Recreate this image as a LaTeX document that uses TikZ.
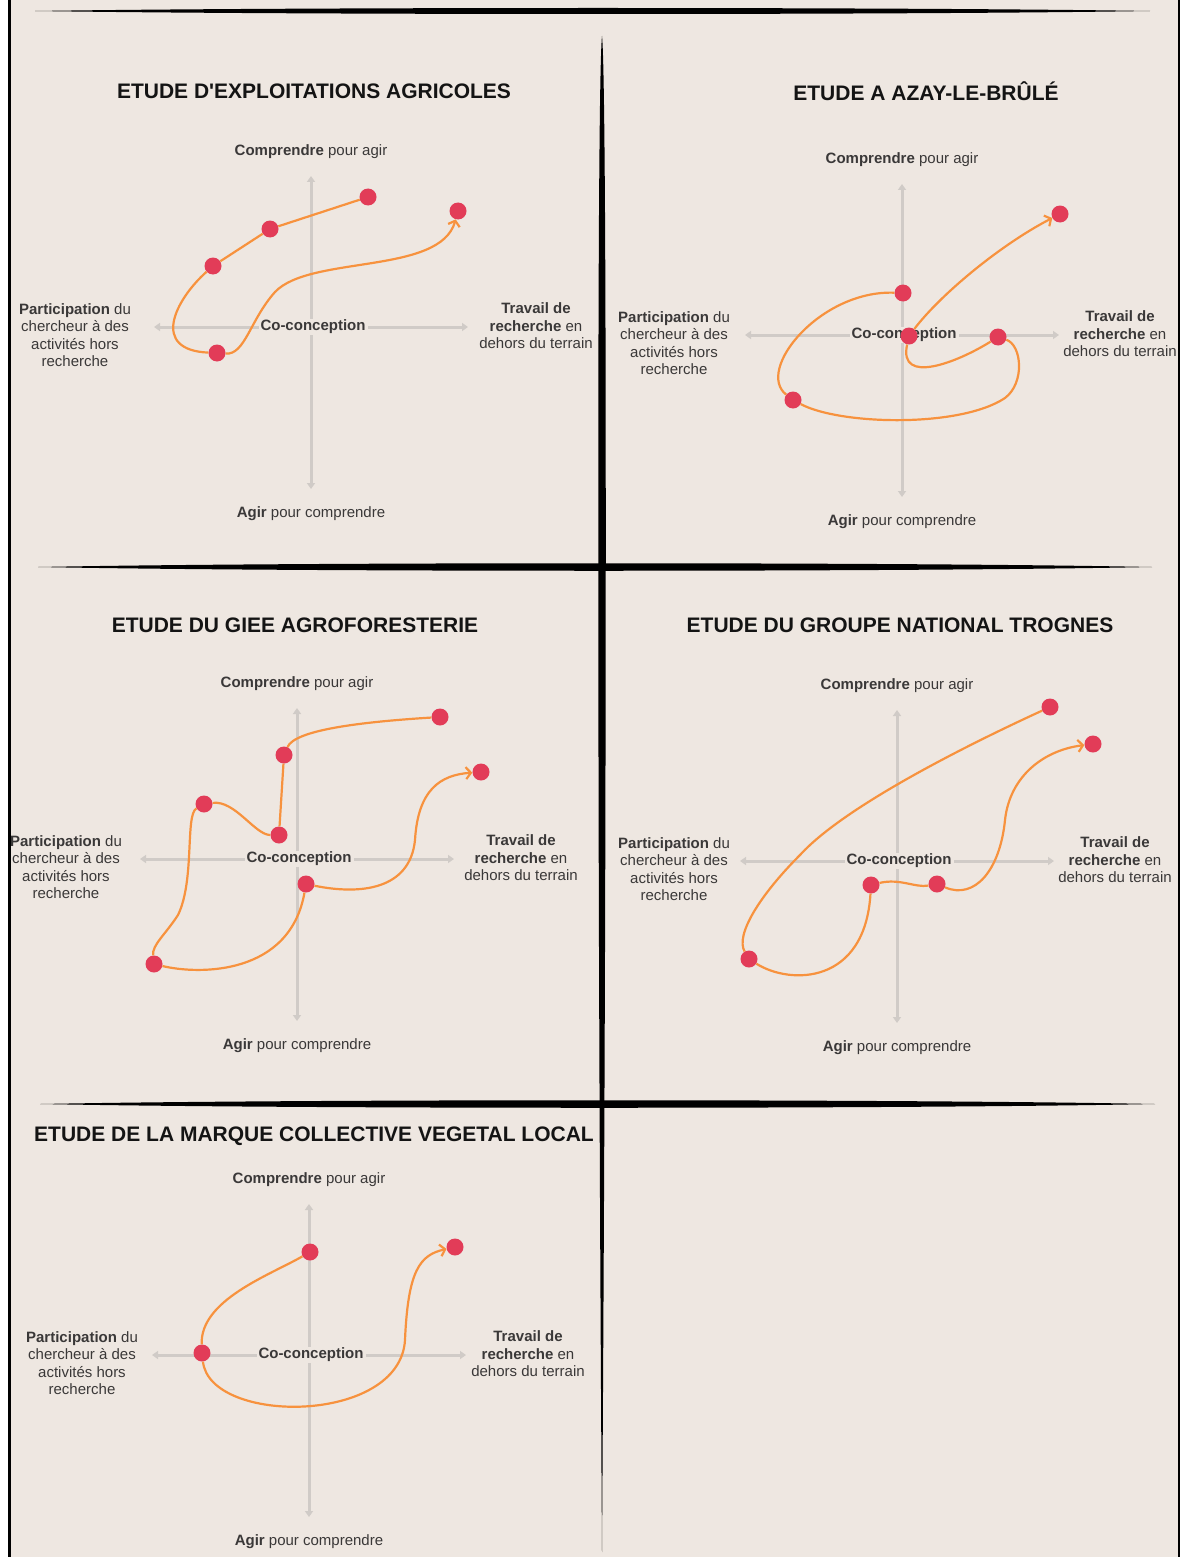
\documentclass[tikz,border=0pt]{standalone}
\usepackage{fontspec}
\setmainfont{Liberation Sans}[Ligatures=TeXOff]
\usepackage{tikz}
\usetikzlibrary{arrows.meta,positioning,calc}
\definecolor{paperbeige}{RGB}{238,231,225}
\definecolor{axisgray}{RGB}{208,203,199}
\definecolor{curveorange}{RGB}{247,146,62}
\definecolor{dotred}{RGB}{226,60,88}
\definecolor{labelgray}{RGB}{58,56,56}
\tikzset{
  paneltitle/.style={font=\fontsize{21}{25}\selectfont\bfseries, text=black!92, inner sep=0pt},
  axislabel/.style={font=\fontsize{15}{17.5}\selectfont, text=labelgray, align=center, inner sep=0pt},
  axisline/.style={draw=axisgray, line width=3pt, {Triangle[length=6pt,width=8pt]}-{Triangle[length=6pt,width=8pt]}},
  reddot/.style={circle, fill=dotred, minimum size=17pt, inner sep=0pt},
  trail/.style={draw=curveorange, line width=2.2pt},
  trailend/.style={trail, -{Straight Barb[length=5pt,width=12pt]}},
  brush/.style={fill=black}
}

\begin{document}
\begin{tikzpicture}[x=1pt,y=-1pt]
\useasboundingbox (0,0) rectangle (1182,1557);
\fill[white] (0,0) rectangle (1182,1557);
\fill[paperbeige] (9,0) rectangle (1179,1557);

\foreach \n/\cx/\cy/\lx/\rx in {ex/311/327/236/225, az/902/335/228/218, gi/297/859/231/224, tr/897/861/223/218, vl/309/1355/227/219}{
  \coordinate (\n-w) at ({\cx-157},\cy);
  \coordinate (\n-e) at ({\cx+157},\cy);
  \coordinate (\n-n) at (\cx,{\cy-151});
  \coordinate (\n-s) at (\cx,{\cy+162});
  \draw[axisline] (\n-w) -- (\n-e);
  \draw[axisline] (\n-n) -- (\n-s);
  \node[axislabel] (\n-top) at (\cx,{\cy-175}) {\textbf{Comprendre} pour agir};
  \node[axislabel] (\n-bot) at (\cx,{\cy+187}) {\textbf{Agir} pour comprendre};
  \node[axislabel] (\n-left) at ({\cx-\lx},{\cy+8}) {\textbf{Participation} du\\chercheur à des\\activités hors\\recherche};
  \node[axislabel] (\n-right) at ({\cx+\rx},{\cy-1}) {\textbf{Travail de}\\\textbf{recherche} en\\dehors du terrain};
  \node[axislabel, fill=paperbeige, inner xsep=2pt, inner ysep=1pt] (\n-mid) at ({\cx+2},\cy) {\textbf{Co-conception}};
}

\node[paneltitle] (ex-title) at (314,91) {ETUDE D'EXPLOITATIONS AGRICOLES};
\node[paneltitle] (az-title) at (926,91) {ETUDE A AZAY-LE-BRÛLÉ};
\node[paneltitle] (gi-title) at (295,625) {ETUDE DU GIEE AGROFORESTERIE};
\node[paneltitle] (tr-title) at (900,625) {ETUDE DU GROUPE NATIONAL TROGNES};
\node[paneltitle] (vl-title) at (314,1136) {ETUDE DE LA MARQUE COLLECTIVE VEGETAL LOCAL};

\node[reddot] (ex1) at (368,197) {};
\node[reddot] (ex2) at (270,229) {};
\node[reddot] (ex3) at (213,266) {};
\node[reddot] (ex4) at (217,353) {};
\node[reddot] (ex5) at (458,211) {};
\draw[trail] (ex1) -- (ex2) -- (ex3) .. controls (175,300) and (150,350) .. (ex4);
\draw[trailend] (ex4) .. controls (245,355) and (250,320) .. (275,292) .. controls (310,255) and (440,275) .. (ex5);

\node[reddot] (az1) at (903,293) {};
\node[reddot] (az2) at (909,336) {};
\node[reddot] (az3) at (998,337) {};
\node[reddot] (az4) at (793,400) {};
\node[reddot] (az5) at (1060,214) {};
\draw[trail] (az1) .. controls (820,290) and (755,370) .. (az4);
\draw[trail] (az4) .. controls (840,425) and (960,428) .. (1005,398) .. controls (1025,383) and (1022,345) .. (az3);
\draw[trail] (az3) .. controls (958,362) and (898,386) .. (az2);
\draw[trailend] (az2) .. controls (940,295) and (1000,245) .. (az5);

\node[reddot] (gi1) at (440,717) {};
\node[reddot] (gi2) at (284,755) {};
\node[reddot] (gi3) at (279,835) {};
\node[reddot] (gi4) at (204,804) {};
\node[reddot] (gi5) at (154,964) {};
\node[reddot] (gi6) at (306,884) {};
\node[reddot] (gi7) at (481,772) {};
\draw[trail] (gi1) .. controls (360,722) and (295,730) .. (gi2);
\draw[trail] (gi2) -- (gi3);
\draw[trail] (gi3) .. controls (255,835) and (235,800) .. (gi4);
\draw[trail] (gi4) .. controls (185,815) and (195,880) .. (178,915) .. controls (165,935) and (152,945) .. (gi5);
\draw[trail] (gi5) .. controls (200,975) and (290,975) .. (gi6);
\draw[trailend] (gi6) .. controls (360,895) and (410,890) .. (415,840) .. controls (418,790) and (440,775) .. (gi7);

\node[reddot] (tr1) at (1050,707) {};
\node[reddot] (tr2) at (871,885) {};
\node[reddot] (tr3) at (937,884) {};
\node[reddot] (tr4) at (749,959) {};
\node[reddot] (tr5) at (1093,744) {};
\draw[trail] (tr1) .. controls (1000,730) and (850,800) .. (800,855) .. controls (760,895) and (735,935) .. (tr4);
\draw[trail] (tr4) .. controls (790,985) and (865,985) .. (tr2);
\draw[trail] (tr2) .. controls (900,878) and (915,888) .. (tr3);
\draw[trailend] (tr3) .. controls (975,900) and (1000,870) .. (1005,820) .. controls (1010,775) and (1045,750) .. (tr5);

\node[reddot] (vl1) at (310,1252) {};
\node[reddot] (vl2) at (202,1353) {};
\node[reddot] (vl3) at (455,1247) {};
\draw[trail] (vl1) .. controls (270,1275) and (200,1300) .. (vl2);
\draw[trailend] (vl2) .. controls (210,1425) and (400,1425) .. (405,1340) .. controls (408,1270) and (420,1255) .. (vl3);

\fill[brush] (35,11) .. controls (300,7) and (900,7) .. (1150,11) .. controls (900,15) and (300,15) .. cycle;
\fill[brush] (38,567) .. controls (300,562) and (900,562) .. (1152,567) .. controls (900,572) and (300,572) .. cycle;
\fill[brush] (40,1104) .. controls (300,1099) and (900,1099) .. (1155,1104) .. controls (900,1109) and (300,1109) .. cycle;
\fill[brush] (602,36) .. controls (607,80) and (607,800) .. (602,1552) .. controls (597,800) and (597,80) .. cycle;
\draw[line width=2.5pt] (9.5,0) -- (9.5,1557);
\draw[line width=2.5pt] (1179,0) -- (1179,1557);
\end{tikzpicture}
\end{document}
